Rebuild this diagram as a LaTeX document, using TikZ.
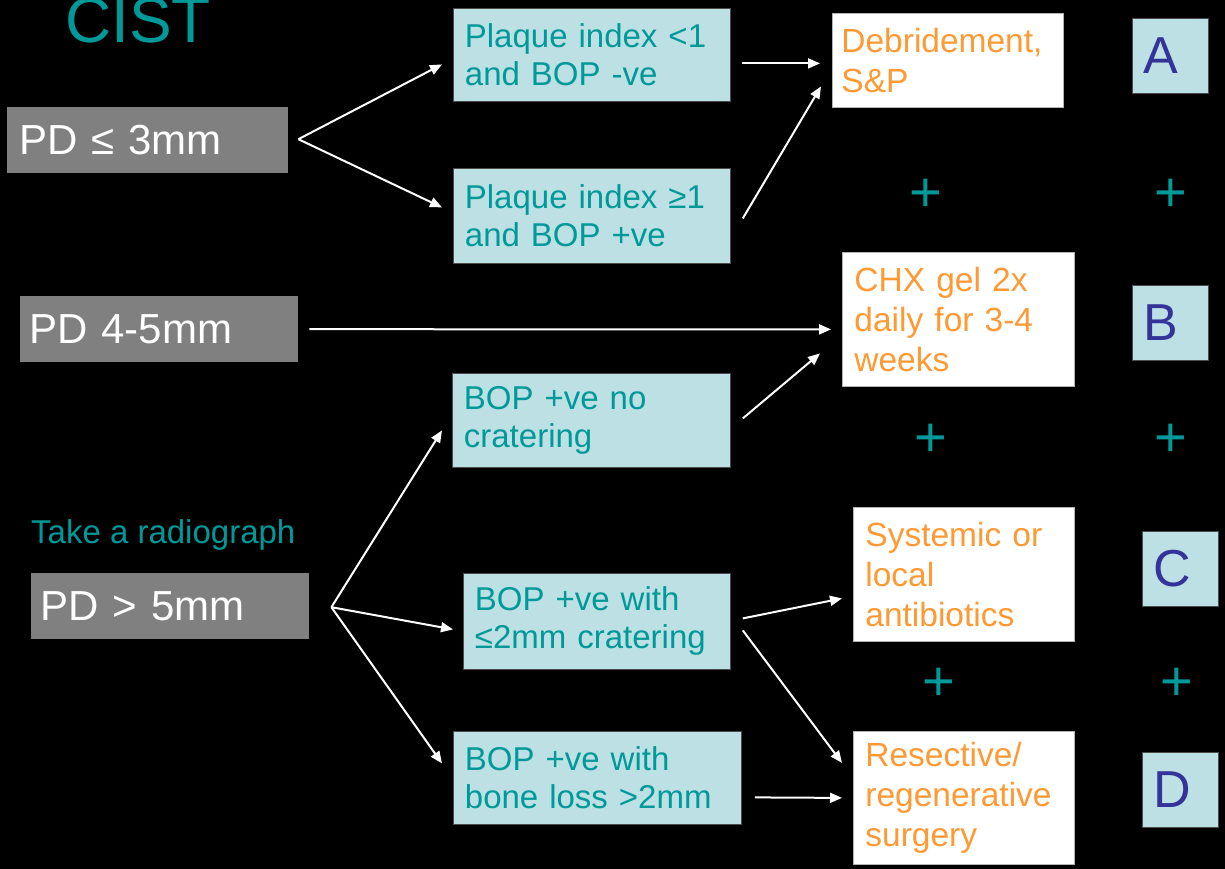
\documentclass[tikz,border=0pt]{standalone}
\usepackage{fontspec}
\setmainfont{Liberation Sans}
\usetikzlibrary{positioning,calc,arrows.meta}
\definecolor{cistteal}{RGB}{0,153,153}
\definecolor{cistcyan}{RGB}{188,224,227}
\definecolor{cistgray}{RGB}{128,128,128}
\definecolor{cistorange}{RGB}{255,153,51}
\definecolor{cistblue}{RGB}{51,51,153}

\begin{document}
\begin{tikzpicture}[x=1pt, y=-1pt,
        pdbox/.style={fill=cistgray, text=white, font=\fontsize{42}{48}\selectfont, anchor=north west, align=left, inner xsep=9pt, inner ysep=0pt, minimum height=66pt},
        testbox/.style={fill=cistcyan, draw=black!70, line width=0.8pt, text=cistteal, font=\fontsize{33}{38}\selectfont, anchor=north west, align=left, inner xsep=11.5pt, inner ysep=0pt},
        txbox/.style={fill=white, draw=black!30, line width=0.8pt, text=cistorange, font=\fontsize{33.5}{40}\selectfont, anchor=north west, align=left, inner xsep=12pt, inner ysep=0pt},
        letterbox/.style={fill=cistcyan, draw=black!70, line width=0.8pt, text=cistblue, font=\fontsize{52}{60}\selectfont, anchor=north west, align=left, inner xsep=11pt, inner ysep=0pt, text width=54pt, minimum height=75pt},
        plussign/.style={text=cistteal, font=\fontsize{56}{60}\selectfont, inner sep=0pt},
        arrow/.style={-{Triangle[length=12pt,width=10pt]}, line width=2pt, white}
    ]
        \useasboundingbox (0,0) rectangle (1225,869);
        \fill[black] (0,0) rectangle (1225,869);

        % Title
        \node (title) [anchor=base west, text=cistteal, font=\fontsize{64}{70}\selectfont, inner sep=0pt] at (65,43) {CIST};

        % Probing depths
        \node (pd3) [pdbox, inner xsep=12pt, text width=257pt] at (7,107) {PD ≤ 3mm};
        \node (pd45) [pdbox, text width=260pt] at (20,296) {PD 4-5mm};
        \node (pd5) [pdbox, text width=260pt] at (31,573) {PD > 5mm};
        \node (xray) [anchor=base west, text=cistteal, font=\fontsize{33}{38}\selectfont, inner sep=0pt] at (31,543) {Take a radiograph};

        % Findings
        \node (plq1) [testbox, text width=254pt, minimum height=93pt] at (453,8) {Plaque index <1\\and BOP -ve};
        \node (plq2) [testbox, text width=254pt, minimum height=95pt] at (453,168) {Plaque index ≥1\\and BOP +ve};
        \node (bopnc) [testbox, text width=255pt, minimum height=94pt] at (452,373) {BOP +ve no\\cratering};
        \node (bop2) [testbox, text width=244pt, minimum height=96pt] at (463,573) {BOP +ve with\\≤2mm cratering};
        \node (bopbl) [testbox, text width=265pt, minimum height=93pt] at (453,731) {BOP +ve with\\bone loss >2mm};

        % Treatments
        \node (debr) [txbox, inner xsep=9pt, text width=213pt, minimum height=94pt] at (832,13) {Debridement,\\S\&P};
        \node (chx) [txbox, text width=208pt, minimum height=134pt] at (842,252) {CHX gel 2x\\daily for 3-4\\weeks};
        \node (syst) [txbox, text width=197pt, minimum height=134pt] at (853,507) {Systemic or\\local\\antibiotics};
        \node (surg) [txbox, text width=197pt, minimum height=133pt] at (853,731) {Resective/\\regenerative\\surgery};

        % Protocol letters
        \node (la) [letterbox] at (1132,18) {A};
        \node (lb) [letterbox] at (1132,285) {B};
        \node (lc) [letterbox] at (1142,531) {C};
        \node (ld) [letterbox] at (1142,752) {D};

        \foreach \xx/\yy [count=\i] in {926/195, 1171/195, 931/440, 1171/440, 939/684, 1177/684}
            \node (plus\i) [plussign] at (\xx,\yy) {+};

        % Arrows
        \draw [arrow] ($(pd3.east)+(10,-1)$) -- ($(plq1.west)+(-11,9.5)$);
        \draw [arrow] ($(pd3.east)+(10,-1)$) -- ($(plq2.west)+(-11,-8.5)$);
        \draw [arrow] ($(plq1.east)+(11,8.5)$) -- ($(debr.west)+(-12,3)$);
        \draw [arrow] ($(plq2.east)+(12,2.5)$) -- ($(debr.west)+(-11,26)$);
        \draw [arrow] ($(pd45.east)+(11,0)$) -- ($(chx.west)+(-11,10)$);
        \draw [arrow] ($(bopnc.east)+(12,-2)$) -- ($(chx.west)+(-22,34)$);
        \draw [arrow] ($(pd5.east)+(22,1)$) -- ($(bopnc.west)+(-10,10)$);
        \draw [arrow] ($(pd5.east)+(22,1)$) -- ($(bop2.west)+(-10,8)$);
        \draw [arrow] ($(pd5.east)+(22,1)$) -- ($(bopbl.west)+(-11,-14.5)$);
        \draw [arrow] ($(bop2.east)+(12,-3)$) -- ($(syst.west)+(-11,24)$);
        \draw [arrow] ($(bop2.east)+(12,9)$) -- ($(surg.west)+(-11,-35)$);
        \draw [arrow] ($(bopbl.east)+(13,19.5)$) -- ($(surg.west)+(-11,0)$);
    \end{tikzpicture}
\end{document}
